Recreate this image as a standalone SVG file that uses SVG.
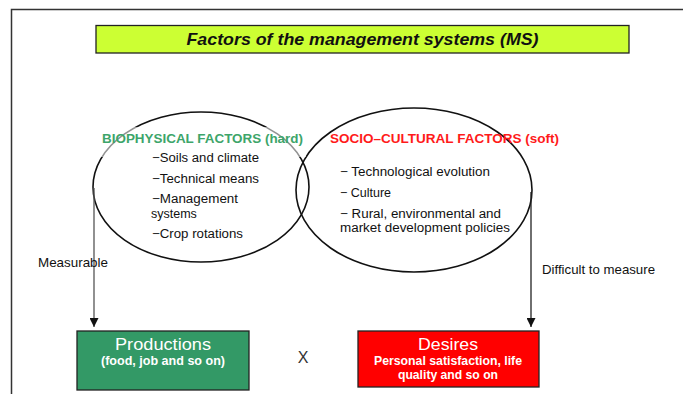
<svg xmlns="http://www.w3.org/2000/svg" width="683" height="394" viewBox="0 0 683 394">
<defs>
<style>
.t{font-family:"Liberation Sans",Arial,sans-serif;fill:#111}
.s{font-size:13px}
.l{font-size:12.5px}
.h{font-size:13.3px;font-weight:bold}
.w{fill:#fff}
.ell{fill:none;stroke:#111;stroke-width:1.6}
.box{stroke:#222;stroke-width:1.3}
.con{stroke:#222;stroke-width:1.3;fill:none}
</style>
<marker id="arr" markerWidth="10" markerHeight="9" refX="9" refY="4.5" orient="auto" markerUnits="userSpaceOnUse">
<path d="M0,0 L9,4.5 L0,9 Z" fill="#111"/>
</marker>
</defs>
<rect width="683" height="394" fill="#fff"/>
<path d="M11.5 394 V9.5 H683" fill="none" stroke="#333" stroke-width="1.5"/>
<g id="title">
<rect x="96" y="25.5" width="533" height="27.5" fill="#CCFF33" class="box"/>
<text x="362.5" y="44.5" text-anchor="middle" class="t" font-size="16.5" font-weight="bold" font-style="italic" textLength="352" lengthAdjust="spacingAndGlyphs">Factors of the management systems (MS)</text>
</g>
<g id="biophysical">
<ellipse cx="201" cy="187" rx="108" ry="75" class="ell"/>
</g>
<g id="sociocultural">
<ellipse cx="414" cy="190" rx="118" ry="82" class="ell"/>
</g>
<rect x="99" y="127" width="207" height="30" fill="#fff" opacity="0.55"/>
<g id="biophysical-text">
<text x="102" y="143" class="t h" style="fill:#3da56a" textLength="201" lengthAdjust="spacingAndGlyphs">BIOPHYSICAL FACTORS (hard)</text>
<text x="152" y="162" class="t l" textLength="107" lengthAdjust="spacingAndGlyphs">−Soils and climate</text>
<text x="152" y="183" class="t l" textLength="107" lengthAdjust="spacingAndGlyphs">−Technical means</text>
<text x="152" y="203" class="t l" textLength="86" lengthAdjust="spacingAndGlyphs">−Management</text>
<text x="151" y="217.5" class="t l">systems</text>
<text x="152" y="238" class="t l" textLength="91" lengthAdjust="spacingAndGlyphs">−Crop rotations</text>
</g>
<g id="sociocultural-text">
<text x="330" y="143" class="t h" style="fill:#ff1a1a" textLength="229" lengthAdjust="spacingAndGlyphs">SOCIO–CULTURAL FACTORS (soft)</text>
<text x="340" y="176" class="t l" textLength="150" lengthAdjust="spacingAndGlyphs">− Technological evolution</text>
<text x="340" y="197" class="t l">− Culture</text>
<text x="340" y="217.5" class="t l" textLength="161" lengthAdjust="spacingAndGlyphs">− Rural, environmental and</text>
<text x="340" y="232" class="t l" textLength="170" lengthAdjust="spacingAndGlyphs">market development policies</text>
</g>
<g id="connectors">
<line x1="94" y1="188" x2="94" y2="327" class="con" style="stroke:#555" marker-end="url(#arr)"/>
<line x1="531" y1="192" x2="531" y2="327" class="con" marker-end="url(#arr)"/>
<text x="38" y="267" class="t s" textLength="70" lengthAdjust="spacingAndGlyphs">Measurable</text>
<text x="542" y="274" class="t s" textLength="113" lengthAdjust="spacingAndGlyphs">Difficult to measure</text>
</g>
<g id="productions">
<rect x="77" y="331" width="172" height="59" fill="#339966" class="box"/>
<text x="163" y="350" text-anchor="middle" class="t w" font-size="17" textLength="96" lengthAdjust="spacingAndGlyphs">Productions</text>
<text x="163" y="365" text-anchor="middle" class="t w" font-size="12" font-weight="bold" textLength="124" lengthAdjust="spacingAndGlyphs">(food, job and so on)</text>
</g>
<g id="times">
<text x="303" y="363" text-anchor="middle" class="t" font-size="16" style="fill:#333">X</text>
</g>
<g id="desires">
<rect x="358" y="331" width="181" height="56" fill="#FF0000" class="box"/>
<text x="448" y="350" text-anchor="middle" class="t w" font-size="17" textLength="60" lengthAdjust="spacingAndGlyphs">Desires</text>
<text x="448" y="365" text-anchor="middle" class="t w" font-size="12" font-weight="bold" textLength="148" lengthAdjust="spacingAndGlyphs">Personal satisfaction, life</text>
<text x="448" y="378.5" text-anchor="middle" class="t w" font-size="12" font-weight="bold" textLength="100" lengthAdjust="spacingAndGlyphs">quality and so on</text>
</g>
</svg>
